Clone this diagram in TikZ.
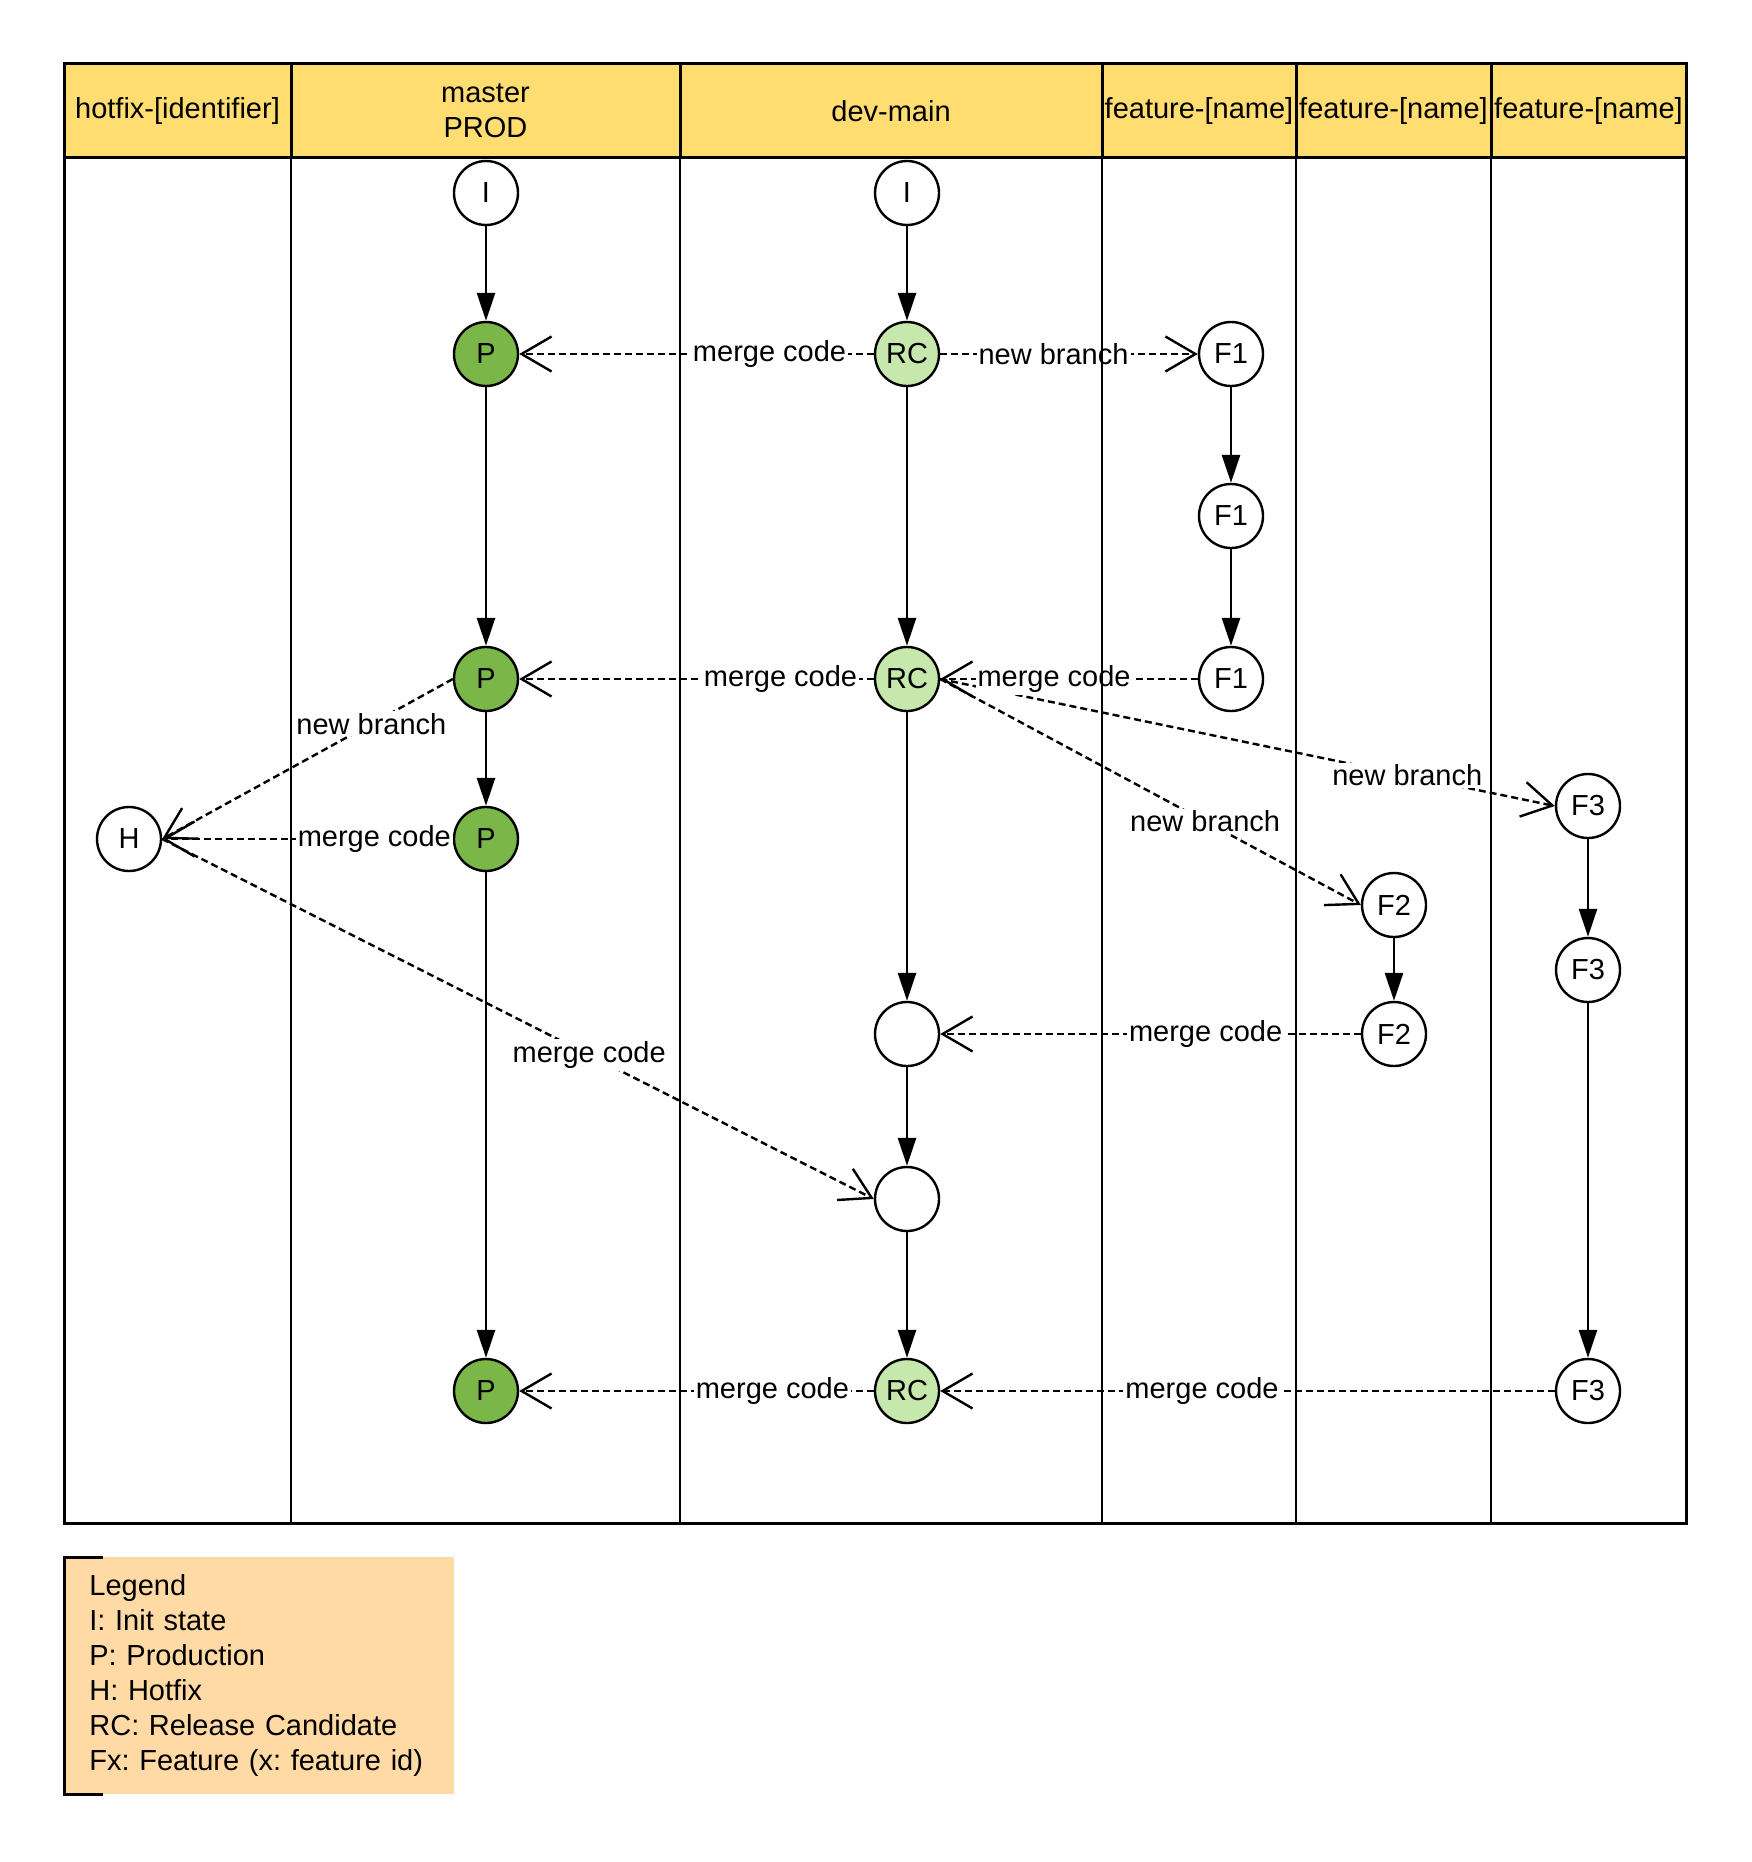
\documentclass[tikz,border=0pt]{standalone}
\usepackage{fontspec}
\setmainfont{Liberation Sans}
\usetikzlibrary{positioning,arrows.meta}
\definecolor{laneyellow}{HTML}{FFDD71}
\definecolor{prodgreen}{HTML}{7AB648}
\definecolor{rcgreen}{HTML}{C7E8AC}
\definecolor{legendpeach}{HTML}{FFDAA5}
\tikzset{
  lanehead/.style={draw, line width=1.5pt, fill=laneyellow, minimum height=47pt, inner sep=0pt, align=center},
  lanebody/.style={line width=1.3pt},
  commit/.style={draw, circle, line width=1.2pt, minimum size=32pt, inner sep=0pt, fill=white},
  prodcommit/.style={commit, fill=prodgreen},
  rccommit/.style={commit, fill=rcgreen},
  flowedge/.style={line width=1.4pt, -{Triangle[length=14pt,width=9pt]}},
  dashlink/.style={line width=1.2pt, dash pattern=on 3.5pt off 2pt, -{Straight Barb[length=15pt,width=17.5pt]}},
  lbl/.style={fill=white, inner sep=1pt},
  legendbox/.style={fill=legendpeach, text width=170pt, align=left, inner xsep=12.5pt, inner ysep=0pt, minimum height=118.5pt},
}
\begin{document}
\begin{tikzpicture}[x=0.5pt, y=-0.5pt, on grid, font=\fontsize{14.5}{17.5}\selectfont]
\useasboundingbox (0,0) rectangle (1751,1862);
\node(masterI)   [commit] at (486,193) {I};
\node(masterP1)  [prodcommit, below=80.5pt of masterI] {P};
\node(masterP2)  [prodcommit, below=162.5pt of masterP1] {P};
\node(masterP3)  [prodcommit, below=80pt of masterP2] {P};
\node(masterP4)  [prodcommit, below=276pt of masterP3] {P};
\node(devI)      [commit, right=210.5pt of masterI] {I};
\node(devRC1)    [rccommit, below=80.5pt of devI] {RC};
\node(devRC2)    [rccommit, below=162.5pt of devRC1] {RC};
\node(devMerge1) [commit, below=177.5pt of devRC2] {};
\node(devMerge2) [commit, below=82.5pt of devMerge1] {};
\node(devRC3)    [rccommit, below=96pt of devMerge2] {RC};
\node(F1a)       [commit, right=162pt of devRC1] {F1};
\node(F1b)       [commit, below=81pt of F1a] {F1};
\node(F1c)       [commit, below=81.5pt of F1b] {F1};
\node(F2a)       [commit] at (1394,905) {F2};
\node(F2b)       [commit, below=64.5pt of F2a] {F2};
\node(F3a)       [commit] at (1588,806) {F3};
\node(F3b)       [commit, below=82pt of F3a] {F3};
\node(F3c)       [commit, below=210.5pt of F3b] {F3};
\node(hotfix)    [commit, left=178.5pt of masterP3] {H};
\draw[flowedge] (masterI) -- (masterP1);
\draw[flowedge] (masterP1) -- (masterP2);
\draw[flowedge] (masterP2) -- (masterP3);
\draw[flowedge] (masterP3) -- (masterP4);
\draw[flowedge] (devI) -- (devRC1);
\draw[flowedge] (devRC1) -- (devRC2);
\draw[flowedge] (devRC2) -- (devMerge1);
\draw[flowedge] (devMerge1) -- (devMerge2);
\draw[flowedge] (devMerge2) -- (devRC3);
\draw[flowedge] (F1a) -- (F1b);
\draw[flowedge] (F1b) -- (F1c);
\draw[flowedge] (F2a) -- (F2b);
\draw[flowedge] (F3a) -- (F3b);
\draw[flowedge] (F3b) -- (F3c);
\draw[dashlink] (devRC2.east) -- node[lbl, pos=0.63] {new branch} (F2a.west);
\draw[dashlink] (devRC2.east) -- node[lbl, pos=0.76] {new branch} (F3a.west);
\draw[dashlink] (hotfix.east) -- node[lbl, pos=0.6] {merge code} (devMerge2.west);
\draw[dashlink] (masterP2.west) -- node[lbl, pos=0.28] {new branch} (hotfix.east);
\draw[dashlink] (masterP3) -- node[lbl, pos=0.27] {merge code} (hotfix);
\draw[dashlink] (devRC1) -- node[lbl, pos=0.294] {merge code} (masterP1);
\draw[dashlink] (devRC1) -- node[lbl, pos=0.44] {new branch} (F1a);
\draw[dashlink] (devRC2) -- node[lbl, pos=0.263] {merge code} (masterP2);
\draw[dashlink] (F1c) -- node[lbl, pos=0.558] {merge code} (devRC2);
\draw[dashlink] (F2b) -- node[lbl, pos=0.369] {merge code} (devMerge1);
\draw[dashlink] (devRC3) -- node[lbl, pos=0.286] {merge code} (masterP4);
\draw[dashlink] (F3c) -- node[lbl, pos=0.574] {merge code} (devRC3);
\node(headHotfix) [lanehead, minimum width=113.5pt] at (177.5,111) {hotfix-[identifier]};
\node(headMaster) [lanehead, minimum width=194.5pt] at (485.5,111) {master\\PROD};
\node(headDev)    [lanehead, minimum width=211pt] at (891,111) {dev-main};
\node(headFeatA)  [lanehead, minimum width=97pt] at (1199,111) {feature-[name]};
\node(headFeatB)  [lanehead, minimum width=97.5pt] at (1393.5,111) {feature-[name]};
\node(headFeatC)  [lanehead, minimum width=97.5pt] at (1588.5,111) {feature-[name]};
\draw[lanebody, line width=1.5pt] (64,158) rectangle (1686,1523);
\foreach \x in {291,680,1102,1296,1491}
  \draw[lanebody] (\x,158) -- (\x,1523);
\node(legend) [legendbox, anchor=north west] at (64,1557) {\frenchspacing Legend\\I: Init state\\P: Production\\H: Hotfix\\RC: Release Candidate\\Fx: Feature (x: feature id)};
\draw[line width=1.5pt] ([xshift=19.5pt]legend.north west) -- (legend.north west) -- (legend.south west) -- ([xshift=19.5pt]legend.south west);
\end{tikzpicture}
\end{document}
